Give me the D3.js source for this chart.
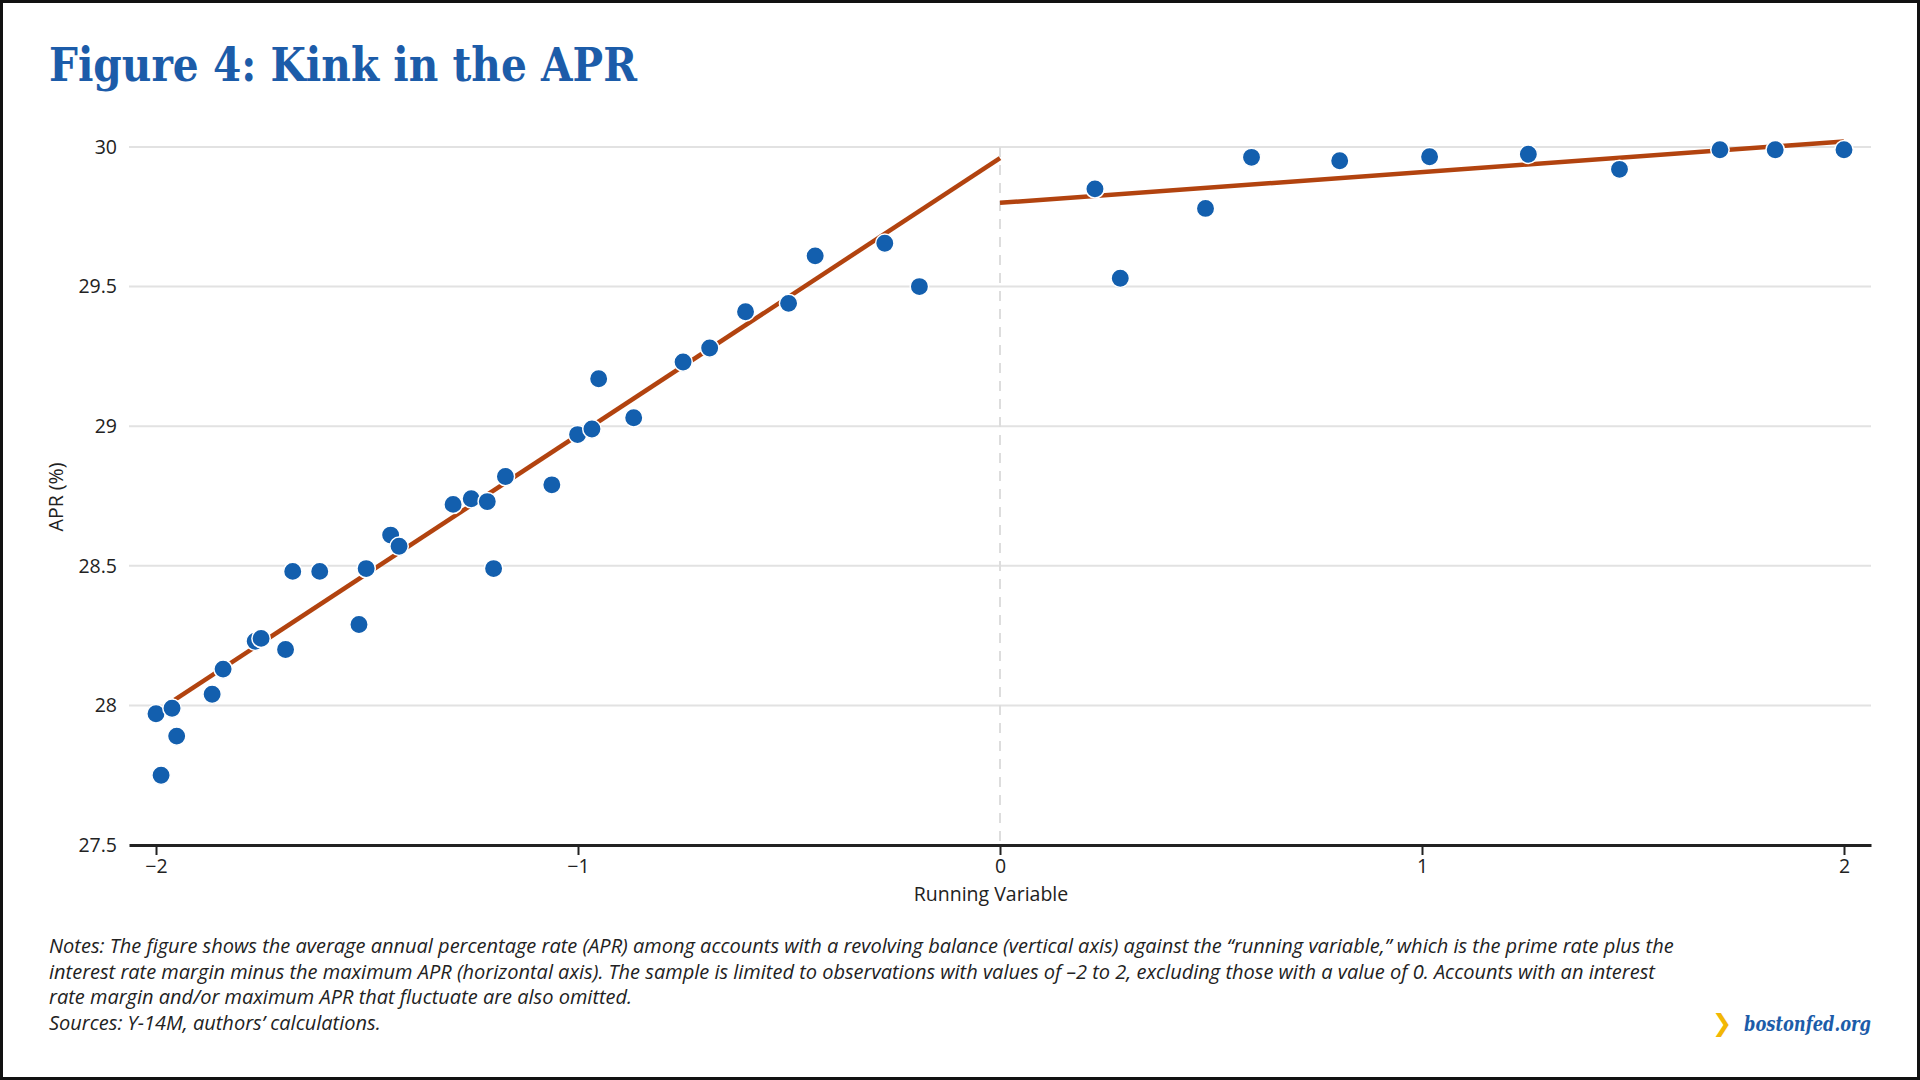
<!DOCTYPE html>
<html>
<head>
<meta charset="utf-8">
<script src="https://cdn.jsdelivr.net/npm/d3@7"></script>
<style>
  html, body { margin: 0; padding: 0; background: #fff; }
  svg { display: block; }
</style>
</head>
<body>
<div id="chart"></div>
<script>
// binned scatter: running variable vs average APR
const runVar = [-2.00, -1.988, -1.962, -1.951, -1.867, -1.841, -1.765, -1.751, -1.693, -1.676,
  -1.612, -1.519, -1.502, -1.444, -1.424, -1.296, -1.253, -1.215, -1.200, -1.172,
  -1.062, -1.001, -0.967, -0.951, -0.868, -0.751, -0.688, -0.603, -0.501, -0.438,
  -0.273, -0.191,
  0.225, 0.285, 0.487, 0.596, 0.805, 1.018, 1.252, 1.468, 1.706, 1.837, 2.00];
const apr = [27.97, 27.75, 27.99, 27.89, 28.04, 28.13, 28.23, 28.24, 28.20, 28.48,
  28.48, 28.29, 28.49, 28.61, 28.57, 28.72, 28.74, 28.73, 28.49, 28.82,
  28.79, 28.97, 28.99, 29.17, 29.03, 29.23, 29.28, 29.41, 29.44, 29.61,
  29.655, 29.50,
  29.85, 29.53, 29.78, 29.963, 29.951, 29.965, 29.974, 29.92, 29.99, 29.99, 29.99];

// fitted lines either side of the kink
const leftFitX = [-1.956, 0];
const leftFitY = [28.02, 29.96];
const rightFitX = [0, 2];
const rightFitY = [29.80, 30.02];

const xTicks = [-2, -1, 0, 1, 2];
const yTicks = [27.5, 28, 28.5, 29, 29.5, 30];

const titleText = "Figure 4: Kink in the APR";
const xTitle = "Running Variable";
const yTitle = "APR (%)";
const notes = [
  "Notes: The figure shows the average annual percentage rate (APR) among accounts with a revolving balance (vertical axis) against the \u201crunning variable,\u201d which is the prime rate plus the",
  "interest rate margin minus the maximum APR (horizontal axis). The sample is limited to observations with values of \u20132 to 2, excluding those with a value of 0. Accounts with an interest",
  "rate margin and/or maximum APR that fluctuate are also omitted.",
  "Sources: Y-14M, authors\u2019 calculations."
];

let width = 1920;
let height = 1080;
let blue = "#135fae";
let rust = "#b2430f";
let font_family = "'Open Sans', 'Noto Sans', sans-serif";

const svg = d3.select("#chart")
  .append("svg")
  .attr("width", width)
  .attr("height", height);

svg.append("rect")
  .attr("x", 1.5).attr("y", 1.5)
  .attr("width", width - 3).attr("height", height - 3)
  .attr("fill", "#fff")
  .attr("stroke", "#111")
  .attr("stroke-width", 3);

svg.append("text")
  .attr("x", 49)
  .attr("y", 81)
  .attr("fill", "#1c5ca9")
  .attr("font-family", "'DejaVu Serif', serif")
  .attr("font-weight", "bold")
  .attr("font-size", 46)
  .attr("textLength", 588)
  .attr("lengthAdjust", "spacingAndGlyphs")
  .text(titleText);

let xScale = d3.scaleLinear()
  .domain([-2.064, 2.064])
  .range([129, 1871]);

let yScale = d3.scaleLinear()
  .domain([27.5, 30])
  .range([845, 147]);

// gridlines
svg.append("g")
  .selectAll("line")
  .data(yTicks.filter(d => d > 27.5))
  .enter().append("line")
    .attr("x1", xScale.range()[0])
    .attr("x2", xScale.range()[1])
    .attr("y1", d => yScale(d))
    .attr("y2", d => yScale(d))
    .attr("stroke", "#e2e2e2")
    .attr("stroke-width", 2);

// y tick labels
svg.append("g")
  .attr("font-family", font_family)
  .attr("font-size", 19.5)
  .attr("fill", "#222")
  .selectAll("text")
  .data(yTicks)
  .enter().append("text")
    .attr("x", 117)
    .attr("y", d => yScale(d))
    .attr("dy", "0.35em")
    .attr("text-anchor", "end")
    .text(d => d);

// dashed line at the threshold
svg.append("line")
  .attr("x1", xScale(0)).attr("x2", xScale(0))
  .attr("y1", yScale(30)).attr("y2", yScale(27.5))
  .attr("stroke", "#dddddd")
  .attr("stroke-width", 2)
  .attr("stroke-dasharray", "10,8");

// x axis
let xAxis = d3.axisBottom(xScale)
  .tickValues(xTicks)
  .tickSize(10)
  .tickSizeOuter(0)
  .tickFormat(d => d < 0 ? "\u2212" + Math.abs(d) : d);

svg.append("g")
  .attr("transform", `translate(0,${yScale(27.5)})`)
  .call(xAxis)
  .call(g => g.select(".domain").attr("stroke", "#222").attr("stroke-width", 3))
  .call(g => g.selectAll(".tick line").attr("stroke", "#222").attr("stroke-width", 2))
  .call(g => g.selectAll(".tick text")
    .attr("font-family", font_family)
    .attr("font-size", 19.5)
    .attr("fill", "#222")
    .attr("y", 14));

// axis titles
svg.append("text")
  .attr("x", xScale(0) - 9)
  .attr("y", 901)
  .attr("text-anchor", "middle")
  .attr("font-family", font_family)
  .attr("font-size", 19.5)
  .attr("fill", "#222")
  .text(xTitle);

svg.append("text")
  .attr("transform", "translate(63,497) rotate(-90)")
  .attr("text-anchor", "middle")
  .attr("font-family", font_family)
  .attr("font-size", 19.5)
  .attr("fill", "#222")
  .text(yTitle);

// fitted lines
let line = d3.line()
  .x(d => xScale(d[0]))
  .y(d => yScale(d[1]));

[[leftFitX, leftFitY], [rightFitX, rightFitY]].forEach(f => {
  svg.append("path")
    .attr("fill", "none")
    .attr("stroke", rust)
    .attr("stroke-width", 4.5)
    .attr("d", line(d3.zip(f[0], f[1])));
});

// points
svg.append("g")
  .selectAll("circle")
  .data(d3.zip(runVar, apr))
  .enter().append("circle")
    .attr("cx", d => xScale(d[0]))
    .attr("cy", d => yScale(d[1]))
    .attr("r", 9.2)
    .attr("fill", blue)
    .attr("stroke", "#fff")
    .attr("stroke-width", 1.5);

// notes
svg.append("g")
  .attr("font-family", font_family)
  .attr("font-style", "italic")
  .attr("font-size", 20)
  .attr("fill", "#222")
  .selectAll("text")
  .data(notes)
  .enter().append("text")
    .attr("x", 49)
    .attr("y", (d, i) => 953 + i * 25.7)
    .text(d => d);

// logo
svg.append("text")
  .attr("x", 1712)
  .attr("y", 1031)
  .attr("fill", "#f2b705")
  .attr("font-family", "'DejaVu Sans', sans-serif")
  .attr("font-weight", "bold")
  .attr("font-size", 24)
  .text("\u276F");

svg.append("text")
  .attr("x", 1871)
  .attr("y", 1031)
  .attr("text-anchor", "end")
  .attr("fill", "#1c5ca9")
  .attr("font-family", "'DejaVu Serif', serif")
  .attr("font-weight", "bold")
  .attr("font-style", "italic")
  .attr("font-size", 20)
  .attr("textLength", 127)
  .attr("lengthAdjust", "spacingAndGlyphs")
  .text("bostonfed.org");
</script>
</body>
</html>
